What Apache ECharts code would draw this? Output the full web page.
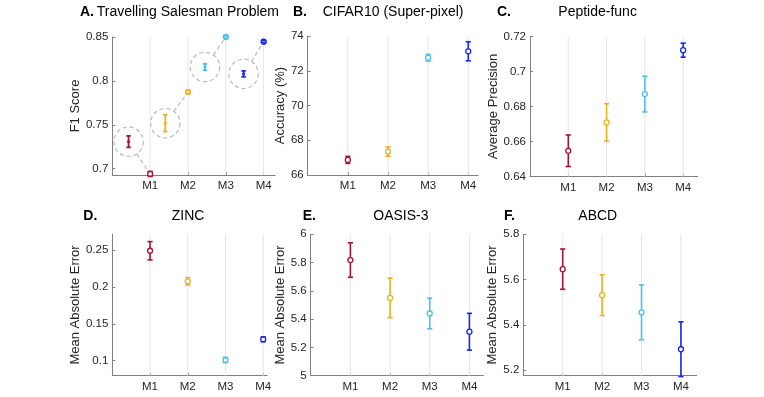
<!DOCTYPE html>
<html><head><meta charset="utf-8">
<script src="https://cdn.jsdelivr.net/npm/echarts@6/dist/echarts.min.js"></script>
<style>html,body{margin:0;padding:0;background:#fff}#c{width:764px;height:397px}</style>
</head><body><div id="c"></div>
<script>
// ---------- data ----------
const categories = ['M1', 'M2', 'M3', 'M4'];
const catPos = [1, 2, 3, 4];
const colors = ['#A2142F', '#EDB120', '#4DBEEE', '#1428F0'];

// A. Travelling Salesman Problem (F1 score)
const tspMean = [0.6940, 0.7873, 0.8500, 0.8446];
const tspErr = [0.0029, 0.0015, 0.0012, 0.0012];
// magnified insets (dashed circles)
const tspInsetX = [0.43, 1.40, 2.45, 3.47];
const tspInsetMean = [0.7308, 0.7518, 0.8158, 0.8080];
const tspInsetErr = [0.0065, 0.0095, 0.0037, 0.0034];
const tspTicks = [0.7, 0.75, 0.8, 0.85];

// B. CIFAR10 (Super-pixel) accuracy
const cifarMean = [66.87, 67.35, 72.75, 73.12];
const cifarErr = [0.20, 0.27, 0.19, 0.55];
const cifarTicks = [66, 68, 70, 72, 74];

// C. Peptide-func average precision
const pepMean = [0.6547, 0.6709, 0.6871, 0.7122];
const pepErr = [0.0090, 0.0107, 0.0102, 0.0040];
const pepTicks = [0.64, 0.66, 0.68, 0.70, 0.72];

// D. ZINC MAE
const zincMean = [0.2490, 0.2076, 0.1010, 0.1290];
const zincErr = [0.0124, 0.0050, 0.0035, 0.0033];
const zincTicks = [0.1, 0.15, 0.2, 0.25];

// E. OASIS-3 MAE
const oasisMean = [5.818, 5.550, 5.440, 5.311];
const oasisErr = [0.122, 0.140, 0.108, 0.130];
const oasisTicks = [5, 5.2, 5.4, 5.6, 5.8, 6];

// F. ABCD MAE
const abcdMean = [5.646, 5.531, 5.455, 5.292];
const abcdErr = [0.089, 0.090, 0.121, 0.121];
const abcdTicks = [5.2, 5.4, 5.6, 5.8];

// ---------- layout ----------
const FONT = '"Liberation Sans", Arial, Helvetica, sans-serif';
const AX = '#808080';
const TXT = '#262626';

const panels = [
  {mean: tspMean, err: tspErr, ticks: tspTicks, ymin: 0.6928, ymax: 0.85, xmax: 4.3,
   left: 112.3, right: 275, top: 37, bottom: 175, yname: 'F1 Score', gap: 24,
   letter: 'A.', title: 'Travelling Salesman Problem', lx: 80, tx: 96.7, ty: 12},
  {mean: cifarMean, err: cifarErr, ticks: cifarTicks, ymin: 66, ymax: 74, xmax: 4.25,
   left: 307.7, right: 478.3, top: 36, bottom: 175, yname: 'Accuracy (%)', gap: 15,
   letter: 'B.', title: 'CIFAR10 (Super-pixel)', lx: 293, tx: 322.7, ty: 12},
  {mean: pepMean, err: pepErr, ticks: pepTicks, ymin: 0.64, ymax: 0.72, xmax: 4.38,
   left: 530, right: 697.7, top: 36.5, bottom: 176.5, yname: 'Average Precision', gap: 25,
   letter: 'C.', title: 'Peptide-func', lx: 497, tx: 558.3, ty: 12},
  {mean: zincMean, err: zincErr, ticks: zincTicks, ymin: 0.0797, ymax: 0.2713, xmax: 4.1,
   left: 112.3, right: 267, top: 234.3, bottom: 375.7, yname: 'Mean Absolute Error', gap: 25,
   letter: 'D.', title: 'ZINC', lx: 83.3, tx: 171.7, ty: 216},
  {mean: oasisMean, err: oasisErr, ticks: oasisTicks, ymin: 5, ymax: 6, xmax: 4.35,
   left: 310.7, right: 483.3, top: 234.3, bottom: 375.7, yname: 'Mean Absolute Error', gap: 20,
   letter: 'E.', title: 'OASIS-3', lx: 302.7, tx: 373.3, ty: 216},
  {mean: abcdMean, err: abcdErr, ticks: abcdTicks, ymin: 5.175, ymax: 5.8, xmax: 4.4,
   left: 523.3, right: 696.7, top: 234.3, bottom: 375.7, yname: 'Mean Absolute Error', gap: 20,
   letter: 'F.', title: 'ABCD', lx: 504, tx: 578.3, ty: 216}
];

function fmt(v) { return String(parseFloat(Number(v).toFixed(4))); }

const grids = [], xAxes = [], yAxes = [], series = [], graphics = [];

panels.forEach((p, i) => {
  grids.push({left: p.left, top: p.top, width: p.right - p.left, height: p.bottom - p.top, containLabel: false});
  xAxes.push({
    type: 'value', gridIndex: i, min: 0, max: p.xmax,
    axisLine: {show: true, onZero: false, lineStyle: {color: AX, width: 1}},
    axisTick: {show: true, inside: true, length: 3, customValues: catPos, lineStyle: {color: AX}},
    axisLabel: {customValues: catPos, formatter: v => categories[Math.round(v) - 1] || '',
      fontSize: 11.5, color: TXT, fontFamily: FONT, margin: 5},
    splitLine: {show: false}
  });
  yAxes.push({
    type: 'value', gridIndex: i, min: p.ymin, max: p.ymax,
    name: p.yname, nameLocation: 'middle', nameGap: p.gap,
    nameTextStyle: {fontSize: 13, color: TXT, fontFamily: FONT},
    axisLine: {show: true, onZero: false, lineStyle: {color: AX, width: 1}},
    axisTick: {show: true, inside: true, length: 3, customValues: p.ticks, lineStyle: {color: AX}},
    axisLabel: {customValues: p.ticks, formatter: v => fmt(v), fontSize: 11.5, color: TXT, fontFamily: FONT, margin: 4},
    splitLine: {show: false}
  });
  // vertical grid lines at categories
  series.push({
    type: 'custom', xAxisIndex: i, yAxisIndex: i, z: 1, silent: true, clip: false,
    data: catPos.map(c => [c, p.ymin]),
    renderItem: (params, api) => {
      const cs = params.coordSys;
      const x = api.coord([api.value(0), api.value(1)])[0];
      return {type: 'line', shape: {x1: x, y1: cs.y, x2: x, y2: cs.y + cs.height},
        style: {stroke: '#e6e6e6', lineWidth: 1}};
    }
  });
  // error bars + markers
  series.push({
    type: 'custom', xAxisIndex: i, yAxisIndex: i, z: 3, clip: false,
    data: p.mean.map((m, k) => [catPos[k], m, p.err[k], k]),
    renderItem: (params, api) => {
      const x = api.value(0), m = api.value(1), e = api.value(2), k = api.value(3);
      const t = api.coord([x, m + e]), b = api.coord([x, m - e]), c = api.coord([x, m]);
      const col = colors[k], cw = 2.6, lw = 1.6;
      return {type: 'group', children: [
        {type: 'line', shape: {x1: t[0], y1: t[1], x2: b[0], y2: b[1]}, style: {stroke: col, lineWidth: lw}},
        {type: 'circle', shape: {cx: c[0], cy: c[1], r: 2.5}, style: {fill: '#fff', stroke: col, lineWidth: 1.3}},
        {type: 'line', shape: {x1: t[0] - cw, y1: t[1], x2: t[0] + cw, y2: t[1]}, style: {stroke: col, lineWidth: lw}},
        {type: 'line', shape: {x1: b[0] - cw, y1: b[1], x2: b[0] + cw, y2: b[1]}, style: {stroke: col, lineWidth: lw}}
      ]};
    }
  });
  graphics.push({type: 'text', x: p.lx, y: p.ty, style: {text: p.letter, font: 'bold 14px ' + FONT,
    fill: '#000', textAlign: 'left', textVerticalAlign: 'middle'}});
  graphics.push({type: 'text', x: p.tx, y: p.ty, style: {text: p.title, font: '14px ' + FONT,
    fill: '#000', textAlign: 'left', textVerticalAlign: 'middle'}});
});

// insets for panel A
series.push({
  type: 'custom', xAxisIndex: 0, yAxisIndex: 0, z: 2, clip: false,
  data: tspInsetX.map((x, k) => [x, tspInsetMean[k], tspInsetErr[k], catPos[k], tspMean[k], k]),
  renderItem: (params, api) => {
    const c = api.coord([api.value(0), api.value(1)]);
    const pt = api.coord([api.value(3), api.value(4)]);
    const dx = pt[0] - c[0], dy = pt[1] - c[1], L = Math.hypot(dx, dy), ux = dx / L, uy = dy / L;
    const R = 14.7, g = 4;
    const t = api.coord([api.value(0), api.value(1) + api.value(2)]);
    const b = api.coord([api.value(0), api.value(1) - api.value(2)]);
    const col = colors[api.value(5)], cw = 2.2, lw = 1.8;
    const dash = {stroke: '#bdbdbd', lineWidth: 1.3, lineDash: [4, 3], fill: null};
    return {type: 'group', children: [
      {type: 'circle', shape: {cx: c[0], cy: c[1], r: R}, style: Object.assign({}, dash)},
      {type: 'line', shape: {x1: c[0] + R * ux, y1: c[1] + R * uy, x2: pt[0] - g * ux, y2: pt[1] - g * uy}, style: Object.assign({}, dash)},
      {type: 'line', shape: {x1: t[0], y1: t[1], x2: b[0], y2: b[1]}, style: {stroke: col, lineWidth: lw}},
      {type: 'line', shape: {x1: t[0] - cw, y1: t[1], x2: t[0] + cw, y2: t[1]}, style: {stroke: col, lineWidth: lw}},
      {type: 'line', shape: {x1: b[0] - cw, y1: b[1], x2: b[0] + cw, y2: b[1]}, style: {stroke: col, lineWidth: lw}},
      {type: 'circle', shape: {cx: c[0], cy: (t[1] + b[1]) / 2, r: 1.2}, style: {fill: col, stroke: col, lineWidth: 0.8}}
    ]};
  }
});

const chart = echarts.init(document.getElementById('c'), null, {renderer: 'canvas'});
chart.setOption({
  animation: false,
  backgroundColor: '#fff',
  grid: grids, xAxis: xAxes, yAxis: yAxes, series: series, graphic: graphics
});
</script>
</body></html>
